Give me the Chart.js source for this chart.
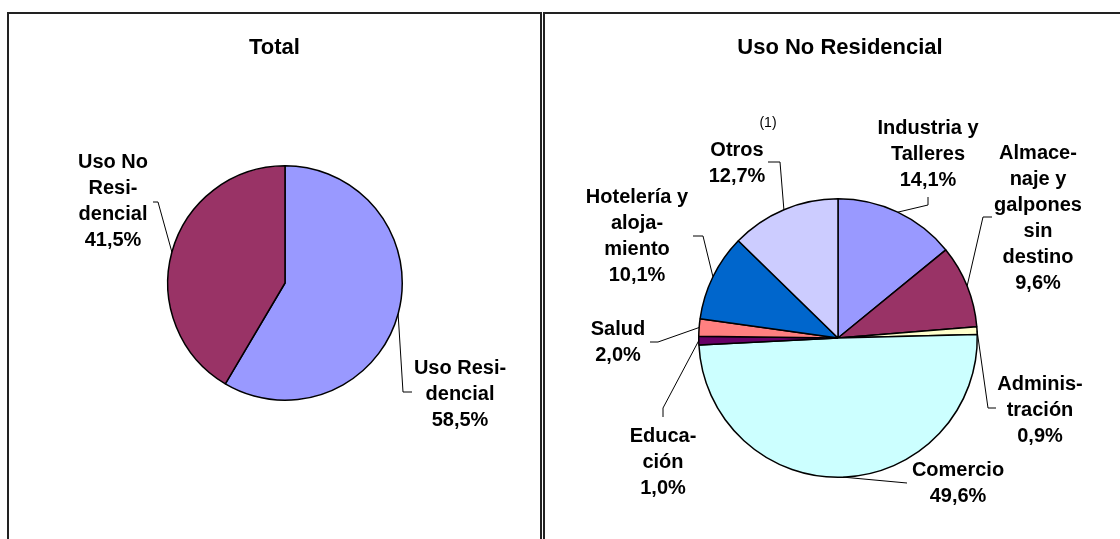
<!DOCTYPE html>
<html>
<head>
<meta charset="utf-8">
<script src="https://cdn.jsdelivr.net/npm/chart.js@4.4.1/dist/chart.umd.min.js"></script>
<style>
	html, body { margin: 0; padding: 0; background: #fff; }
	body { width: 1120px; height: 539px; overflow: hidden; position: relative; }
	.panel { position: absolute; box-sizing: border-box; border: 2px solid #222; background: #fff; }
	canvas { position: absolute; }
</style>
</head>
<body>
<div class="panel" style="left:7px; top:12px; width:535px; height:560px"></div>
<div class="panel" style="left:543px; top:12px; width:600px; height:560px"></div>
<canvas id="chart-total" width="533" height="526" style="left:8px; top:13px"></canvas>
<canvas id="chart-nores" width="590" height="526" style="left:545px; top:13px"></canvas>
<script>
// Total
const totalTitle = 'Total'
const totalCategories = [['Uso Resi-', 'dencial'], ['Uso No', 'Resi-', 'dencial']]
const totalValues = [58.5, 41.5]
const totalColors = ['#9999FF', '#993366']

// Uso No Residencial
const noResTitle = 'Uso No Residencial'
const noResCategories = [
	['Industria y', 'Talleres'],
	['Almace-', 'naje y', 'galpones', 'sin', 'destino'],
	['Adminis-', 'tración'],
	['Comercio'],
	['Educa-', 'ción'],
	['Salud'],
	['Hotelería y', 'aloja-', 'miento'],
	['Otros']
]
const noResValues = [14.1, 9.6, 0.9, 49.6, 1.0, 2.0, 10.1, 12.7]
const noResColors = ['#9999FF', '#993366', '#FFFFCC', '#CCFFFF', '#660066', '#FF8080', '#0066CC', '#CCCCFF']

const FONT = '"Liberation Sans", Arial, sans-serif'

function pct(v) {
	return v.toFixed(1).replace('.', ',') + '%'
}

// draws title, data labels and leader lines (label spots are relative to the pie centre)
const calloutPlugin = {
	id: 'callouts',
	afterDatasetsDraw(chart, args, opts) {
		const ctx = chart.ctx
		const meta = chart.getDatasetMeta(0)
		const values = chart.data.datasets[0].data
		ctx.save()

		ctx.fillStyle = '#000'
		ctx.textAlign = 'center'
		ctx.textBaseline = 'middle'
		ctx.font = 'bold 22px ' + FONT
		ctx.fillText(opts.title, chart.width / 2, opts.titleY)

		meta.data.forEach((arc, i) => {
			const p = arc.getProps(['x', 'y', 'startAngle', 'endAngle', 'outerRadius'], true)
			const mid = (p.startAngle + p.endAngle) / 2
			const spot = opts.spots[i]

			ctx.strokeStyle = '#000'
			ctx.lineWidth = 1
			ctx.beginPath()
			ctx.moveTo(p.x + Math.cos(mid) * p.outerRadius, p.y + Math.sin(mid) * p.outerRadius)
			ctx.lineTo(p.x + spot.elbow[0], p.y + spot.elbow[1])
			ctx.lineTo(p.x + spot.end[0], p.y + spot.end[1])
			ctx.stroke()

			const lines = [].concat(chart.data.labels[i], pct(values[i]))
			ctx.font = 'bold 20px ' + FONT
			lines.forEach((txt, k) => {
				ctx.fillText(txt, p.x + spot.at[0], p.y + spot.at[1] + (k - (lines.length - 1) / 2) * 26)
			})
		})

		if (opts.note) {
			const c = meta.data[0].getProps(['x', 'y'], true)
			ctx.font = '14px ' + FONT
			ctx.fillText(opts.note.text, c.x + opts.note.at[0], c.y + opts.note.at[1])
		}
		ctx.restore()
	}
}

function makePie(canvasId, title, categories, values, colors, padding, spots, note) {
	return new Chart(document.getElementById(canvasId).getContext('2d'), {
		type: 'pie',
		data: {
			labels: categories,
			datasets: [{
				data: values,
				backgroundColor: colors,
				borderColor: '#000',
				borderWidth: 1.5,
				hoverOffset: 0
			}]
		},
		options: {
			responsive: false,
			animation: false,
			events: [],
			layout: { padding: padding },
			plugins: {
				legend: { display: false },
				tooltip: { enabled: false },
				callouts: { title: title, titleY: 35, spots: spots, note: note }
			}
		},
		plugins: [calloutPlugin]
	})
}

makePie('chart-total', totalTitle, totalCategories, totalValues, totalColors,
	{ left: 159, right: 138, top: 152, bottom: 138 },
	[
		{ at: [175, 111], elbow: [118, 109], end: [127, 109] },
		{ at: [-172, -82], elbow: [-127, -81], end: [-132, -81] }
	])

makePie('chart-nores', noResTitle, noResCategories, noResValues, noResColors,
	{ left: 153, right: 157, top: 185, bottom: 61 },
	[
		{ at: [90, -184], elbow: [90, -133], end: [90, -141] },
		{ at: [200, -120], elbow: [145, -121], end: [154, -121] },
		{ at: [202, 72], elbow: [150, 70], end: [158, 70] },
		{ at: [120, 145], elbow: [69, 145], end: [69, 145] },
		{ at: [-175, 124], elbow: [-175, 70], end: [-175, 79] },
		{ at: [-220, 4], elbow: [-180, 4], end: [-188, 4] },
		{ at: [-201, -102], elbow: [-135, -102], end: [-145, -102] },
		{ at: [-101, -175], elbow: [-58, -176], end: [-70, -176] }
	],
	{ text: '(1)', at: [-70, -215] })
</script>
</body>
</html>
